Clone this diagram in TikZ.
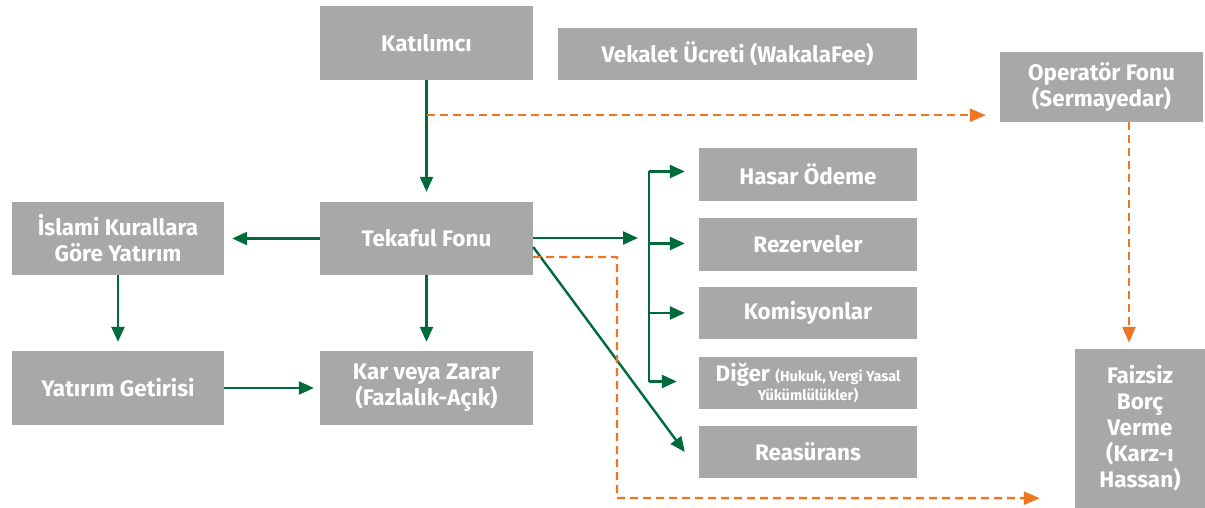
\documentclass[tikz,border=0pt]{standalone}
\usepackage{fontspec}
\setmainfont{Fira Sans}
\usetikzlibrary{arrows.meta,calc}
\definecolor{boxgray}{HTML}{A7A8AA}
\definecolor{dgreen}{HTML}{006B3A}
\definecolor{orng}{HTML}{EE7623}
\tikzset{
  box/.style={fill=boxgray, text=white, font=\bfseries\fontsize{22.5}{26}\selectfont, inner sep=0pt, align=center},
  garrow/.style={draw=dgreen, line width=2.4pt, -{Triangle[length=15pt,width=13pt]}},
  gline/.style={draw=dgreen, line width=2.4pt},
  oarrow/.style={draw=orng, line width=2.4pt, dash pattern=on 8pt off 5pt, -{Triangle[length=16pt,width=13pt]}},
}
\begin{document}
\begin{tikzpicture}[x=1pt,y=-1pt]
\useasboundingbox (0,0) rectangle (1205,508);
% nodes
\node[box, minimum width=213pt, minimum height=74pt] (kat) at (426.5,43) {Katılımcı};
\node[box, minimum width=359pt, minimum height=52pt] (vek) at (737.5,54) {Vekalet Ücreti (WakalaFee)};
\node[box, minimum width=203pt, minimum height=70pt] (op) at (1101.5,87) {Operatör Fonu\\(Sermayedar)};
\node[box, minimum width=213pt, minimum height=73pt] (tek) at (426.5,238.5) {Tekaful Fonu};
\node[box, minimum width=212pt, minimum height=73pt] (isl) at (118,238.5) {İslami Kurallara\\Göre Yatırım};
\node[box, minimum width=212pt, minimum height=74pt] (yat) at (118,388) {Yatırım Getirisi};
\node[box, minimum width=213pt, minimum height=74pt] (kar) at (426.5,388) {Kar veya Zarar\\(Fazlalık-Açık)};
\node[box, minimum width=218pt, minimum height=53pt] (has) at (808,174.5) {Hasar Ödeme};
\node[box, minimum width=218pt, minimum height=53pt] (rez) at (808,244.5) {Rezerveler};
\node[box, minimum width=218pt, minimum height=52pt] (kom) at (808,313) {Komisyonlar};
\node[box, minimum width=218pt, minimum height=52pt] (dig) at (808,382.5) {Diğer {\fontsize{14.5}{16}\selectfont (Hukuk, Vergi Yasal}\\[-7pt]{\fontsize{14.5}{16}\selectfont Yükümlülükler)}};
\node[box, minimum width=218pt, minimum height=52pt] (rea) at (808,452) {Reasürans};
\node[box, minimum width=130pt, minimum height=159pt] (fai) at (1140,428.5) {Faizsiz\\Borç\\Verme\\(Karz-ı\\Hassan)};
% green connectors
\draw[garrow, shorten >=10pt] (kat) -- (tek);
\draw[garrow, shorten >=8pt] (tek) -- (isl);
\draw[garrow, shorten >=9pt] (isl) -- (yat);
\draw[garrow, shorten >=9pt] (tek) -- (kar);
\draw[garrow, shorten >=6pt] (yat) -- (kar);
\coordinate (br) at (638,238);
\draw[garrow] (tek.east |- br) -- (br);
\coordinate (bx) at (649,0);
\draw[gline] ($(bx |- has.west)+(0,-3)$) -- ($(bx |- dig.west)+(0,-1)$);
\draw[garrow, shorten >=14pt] ($(bx |- has.west)+(0,-3)$) -- ($(has.west)+(0,-3)$);
\draw[garrow, shorten >=14pt] ($(bx |- rez.west)+(0,-1)$) -- ($(rez.west)+(0,-1)$);
\draw[garrow, shorten >=14pt] (bx |- kom.west) -- (kom.west);
\draw[garrow, shorten >=22pt] ($(bx |- dig.west)+(0,-1)$) -- ($(dig.west)+(0,-1)$);
\draw[garrow] ($(tek.east)+(0,8.5)$) -- ($(rea.west)+(-14,0)$);
% orange connectors
\coordinate (otop) at ($(op.south west)+(-14,-7)$);
\draw[oarrow] (kat.south |- otop) -- (otop);
\draw[oarrow] ($(op.south)+(27.5,0)$) -- ($(fai.north)+(-11,-6)$);
\coordinate (obot) at ($(fai.south west)+(-35,-10)$);
\draw[oarrow] ($(tek.east)+(0,18.5)$) -| (617,498) -- (obot);
\end{tikzpicture}
\end{document}
